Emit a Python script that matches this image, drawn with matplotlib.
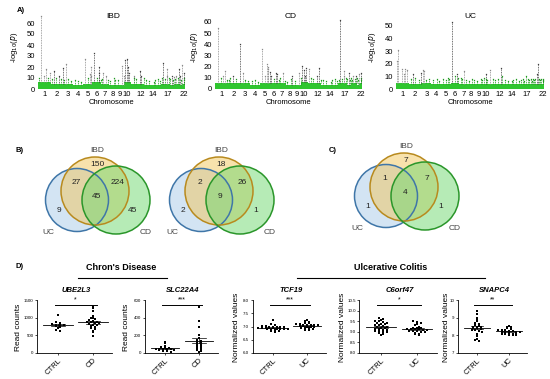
import numpy as np
import matplotlib
matplotlib.use('Agg')
import matplotlib.pyplot as plt
import matplotlib.patches as patches

plt.rcParams['font.family'] = ['Liberation Sans', 'DejaVu Sans']

W, H = 550, 379

# ---- data: Manhattan plots ----
chrom_len = [249, 243, 198, 191, 181, 171, 159, 146, 141, 136, 135, 134,
             115, 107, 102, 90, 83, 80, 59, 64, 47, 51]
chrom_ticks = [1, 2, 3, 4, 5, 6, 7, 8, 9, 10, 12, 14, 17, 22]

# green "background" band height per chromosome
ibd_band = [6, 5, 5, 4, 5, 6, 5, 4, 4, 6, 5, 5, 4, 4, 4, 5, 5, 4, 5, 5, 4, 5]
cd_band = [5, 5, 5, 4, 5, 5, 5, 4, 4, 6, 5, 5, 4, 4, 4, 5, 5, 4, 5, 5, 4, 5]
uc_band = [5, 4, 5, 4, 4, 5, 4, 4, 4, 4, 4, 4, 4, 4, 4, 4, 4, 4, 4, 4, 4, 4]

# (chromosome, position Mb, -log10 p)
ibd_peaks = [
    (1, 20, 10), (1, 67, 66), (1, 120, 12), (1, 160, 18), (1, 200, 10), (1, 235, 15),
    (2, 30, 9), (2, 60, 16), (2, 100, 10), (2, 160, 12), (2, 200, 9), (2, 234, 19),
    (3, 20, 8), (3, 49, 23), (3, 100, 9), (3, 160, 7),
    (4, 40, 8), (4, 100, 7), (4, 150, 6),
    (5, 40, 27), (5, 96, 10), (5, 131, 14), (5, 150, 12), (5, 158, 20),
    (6, 32, 33), (6, 90, 10), (6, 128, 15), (6, 138, 20), (6, 165, 8),
    (7, 27, 9), (7, 50, 15), (7, 100, 12), (7, 130, 8),
    (8, 20, 7), (8, 90, 10), (8, 126, 8),
    (9, 30, 8), (9, 117, 21), (9, 139, 12),
    (10, 35, 26), (10, 64, 27), (10, 81, 20), (10, 101, 15),
    (11, 60, 12), (11, 76, 10), (11, 114, 9),
    (12, 40, 16), (12, 68, 12), (12, 120, 10),
    (13, 40, 8), (13, 100, 7), (14, 69, 6), (14, 88, 8),
    (15, 38, 9), (15, 90, 7), (16, 28, 10), (16, 50, 24), (16, 86, 9),
    (17, 32, 12), (17, 38, 18), (17, 70, 10),
    (18, 12, 9), (18, 46, 12), (18, 67, 8),
    (19, 10, 11), (19, 33, 9), (19, 47, 12),
    (20, 31, 10), (20, 44, 18), (20, 62, 12),
    (21, 16, 8), (21, 40, 22), (22, 22, 10), (22, 30, 15), (22, 40, 8),
]
cd_peaks = [
    (1, 67, 55), (1, 120, 10), (1, 160, 12), (1, 200, 16), (1, 230, 8),
    (2, 30, 8), (2, 45, 10), (2, 100, 12), (2, 160, 9), (2, 234, 40),
    (3, 49, 14), (3, 100, 8), (3, 160, 7),
    (4, 40, 7), (4, 100, 8), (4, 150, 6),
    (5, 40, 36), (5, 96, 12), (5, 131, 22), (5, 150, 18), (5, 158, 20),
    (6, 20, 15), (6, 32, 12), (6, 90, 9), (6, 128, 14), (6, 146, 13),
    (7, 27, 8), (7, 50, 10), (7, 100, 14), (7, 130, 7),
    (8, 20, 6), (8, 90, 9), (8, 126, 12),
    (9, 30, 7), (9, 117, 14), (9, 139, 10),
    (10, 35, 21), (10, 64, 17), (10, 81, 12), (10, 101, 19),
    (11, 26, 18), (11, 76, 10), (11, 114, 9),
    (12, 40, 12), (12, 86, 19), (12, 120, 8),
    (13, 40, 8), (13, 100, 7), (14, 69, 6), (14, 88, 8),
    (15, 38, 9), (15, 90, 7), (16, 28, 8), (16, 50, 62), (16, 86, 9),
    (17, 32, 12), (17, 38, 16), (17, 70, 10),
    (18, 12, 9), (18, 46, 14), (18, 67, 8),
    (19, 10, 10), (19, 33, 8), (19, 47, 12),
    (20, 31, 9), (20, 44, 12), (20, 62, 10),
    (21, 16, 8), (21, 40, 13), (22, 22, 10), (22, 30, 14), (22, 40, 8),
]
uc_peaks = [
    (1, 20, 22), (1, 45, 31), (1, 110, 16), (1, 160, 12), (1, 175, 16), (1, 207, 15),
    (2, 40, 8), (2, 76, 12), (2, 130, 9), (2, 200, 7), (2, 231, 13),
    (3, 40, 15), (3, 53, 14), (3, 100, 7), (3, 160, 8),
    (4, 40, 7), (4, 103, 8), (4, 150, 6),
    (5, 40, 8), (5, 96, 7), (5, 131, 9), (5, 158, 8),
    (6, 32, 53), (6, 90, 10), (6, 128, 12), (6, 140, 9),
    (7, 27, 9), (7, 50, 8), (7, 100, 14), (7, 130, 7),
    (8, 20, 6), (8, 90, 8), (8, 126, 7),
    (9, 30, 6), (9, 117, 8), (9, 139, 7),
    (10, 35, 9), (10, 64, 12), (10, 81, 8), (10, 101, 7),
    (11, 20, 15), (11, 76, 8), (11, 114, 7),
    (12, 40, 8), (12, 100, 17), (12, 120, 10),
    (13, 40, 7), (13, 100, 6), (14, 69, 6), (14, 88, 7),
    (15, 38, 8), (15, 90, 6), (16, 28, 7), (16, 68, 8), (16, 86, 6),
    (17, 38, 10), (17, 70, 8),
    (18, 12, 7), (18, 46, 8), (18, 67, 6),
    (19, 10, 8), (19, 33, 7), (19, 47, 8),
    (20, 31, 12), (20, 45, 20), (20, 62, 8),
    (21, 16, 7), (21, 40, 8), (22, 22, 8), (22, 30, 7), (22, 40, 6),
]

# ---- data: Venn diagrams ----
venn_regions = ['IBD', 'IBD+UC', 'IBD+CD', 'all', 'UC', 'CD']
venn_b_left = [150, 27, 224, 45, 9, 45]
venn_b_right = [18, 2, 26, 9, 2, 1]
venn_c = [7, 1, 7, 4, 1, 1]

# ---- data: expression dot plots ----
ube2l3_ctrl = [1080, 880, 850, 820, 800, 790, 780, 760, 740, 700, 650, 620]
ube2l3_cd = [1330, 1280, 1200, 1050, 1000, 980, 950, 920, 900, 890, 880, 870,
             860, 850, 830, 800, 780, 760, 740, 700, 680, 620, 600, 480]
slc22a4_ctrl = [130, 110, 80, 70, 60, 55, 50, 50, 45, 40, 40, 35, 30, 25, 20, 15]
slc22a4_cd = [520, 360, 290, 200, 170, 150, 140, 130, 120, 110, 100, 90, 80,
              70, 60, 50, 40, 30, 20, 10]
tcf19_ctrl = [7.25, 7.08, 7.05, 7.03, 7.02, 7.0, 7.0, 6.99, 6.98, 6.97, 6.96, 6.95,
              6.95, 6.94, 6.93, 6.92, 6.92, 6.91, 6.9, 6.89, 6.88, 6.86, 6.84, 6.82, 6.8]
tcf19_uc = [7.25, 7.2, 7.18, 7.15, 7.12, 7.1, 7.08, 7.07, 7.06, 7.05, 7.05, 7.04,
            7.03, 7.02, 7.0, 6.99, 6.98, 6.96, 6.95, 6.93, 6.9, 6.88, 6.86]
c6orf47_ctrl = [9.65, 9.6, 9.55, 9.5, 9.5, 9.45, 9.42, 9.4, 9.38, 9.35, 9.32, 9.3,
                9.28, 9.25, 9.22, 9.2, 9.18, 9.15, 9.12, 9.1, 9.08, 9.05, 9.02, 9.0,
                8.98, 8.95, 8.9, 8.85]
c6orf47_uc = [9.5, 9.45, 9.42, 9.38, 9.3, 9.25, 9.2, 9.18, 9.16, 9.15, 9.14, 9.13,
              9.12, 9.1, 9.08, 9.06, 9.05, 9.02, 9.0, 8.98, 8.95, 8.9, 8.88, 8.85]
snapc4_ctrl = [9.4, 9.2, 9.0, 8.9, 8.8, 8.7, 8.65, 8.6, 8.55, 8.5, 8.5, 8.45, 8.4,
               8.4, 8.35, 8.3, 8.3, 8.25, 8.2, 8.1, 8.0, 7.95, 7.8, 7.75, 7.7]
snapc4_uc = [8.55, 8.5, 8.45, 8.4, 8.35, 8.3, 8.3, 8.28, 8.25, 8.22, 8.2, 8.2, 8.18,
             8.15, 8.12, 8.1, 8.1, 8.08, 8.05, 8.03, 8.0, 8.0]


def rect(left, top, right, bottom):
    """pixel box -> figure fraction"""
    return [left / W, 1 - bottom / H, (right - left) / W, (bottom - top) / H]


fig = plt.figure(figsize=(W / 100, H / 100), dpi=100)

# background axes in pixel coordinates for Venns and free text
bg = fig.add_axes([0, 0, 1, 1])
bg.set_xlim(0, W)
bg.set_ylim(H, 0)
bg.axis('off')


def manhattan(box, band, peaks, ymax, yticks, title, title_xy, ylab_x):
    ax = fig.add_axes(rect(*box))
    offs = np.concatenate([[0], np.cumsum(chrom_len)[:-1]])
    for i, L in enumerate(chrom_len):
        ax.fill_between([offs[i], offs[i] + L], 0, band[i], color='#2fc62f', lw=0)
    for c, p, h in peaks:
        x = offs[c - 1] + p
        col = '#404040' if c % 2 == 0 else '#8a8a8a'
        if h < 11:
            col = '#1f9a1f'
        ax.vlines(x, band[c - 1], h, colors=col, linestyles=(0, (1, 1)), lw=0.6)
        ax.plot(x, h, 's', ms=0.9, color=col, mew=0)
    ax.set_xlim(0, sum(chrom_len))
    ax.set_ylim(-1, ymax)
    centers = offs + np.array(chrom_len) / 2
    ax.set_xticks([centers[c - 1] for c in chrom_ticks])
    ax.set_xticklabels([str(c) for c in chrom_ticks], fontsize=5.5)
    ax.set_yticks(yticks)
    ax.set_yticklabels([str(t) for t in yticks], fontsize=5.5)
    ax.tick_params(axis='x', length=0, pad=0.5)
    ax.tick_params(axis='y', length=0, pad=2)
    for s in ax.spines.values():
        s.set_visible(False)
    ax.patch.set_alpha(0)
    bg.text(title_xy[0], title_xy[1], title, fontsize=6, ha='center', va='center')
    bg.text((box[0] + box[2]) / 2, 102.5, 'Chromosome', fontsize=5.5, ha='center', va='center')
    bg.text(ylab_x, 47, r'-log$_{10}$($\it{p}$)', fontsize=5.5, rotation=90,
            ha='center', va='center')


manhattan((38, 14.2, 185, 90.1), ibd_band, ibd_peaks, 68, range(0, 61, 10), 'IBD', (113, 16), 15)
manhattan((215, 13.0, 362, 90.1), cd_band, cd_peaks, 68, range(0, 61, 10), 'CD', (291, 16), 195)
manhattan((396, 15.9, 544, 90.3), uc_band, uc_peaks, 58, range(0, 51, 10), 'UC', (470, 17), 373)

bg.text(17, 10, 'A)', fontsize=5.5, fontweight='bold', ha='left', va='center')
bg.text(15, 151, 'B)', fontsize=5.5, fontweight='bold', ha='left', va='center')
bg.text(329, 150, 'C)', fontsize=5.5, fontweight='bold', ha='left', va='center')
bg.text(15, 267, 'D)', fontsize=5.5, fontweight='bold', ha='left', va='center')

# ---- Venn diagrams ----
label_off = {'IBD': (2, -27), 'IBD+UC': (-19, -8), 'IBD+CD': (23, -8),
             'all': (1, 6), 'UC': (-36, 19), 'CD': (37, 19)}


def venn(cx, cy, counts):
    circles = [((cx - 18, cy + 9), 31.5, '#a9cbe9', '#3f76a8'),
               ((cx, cy), 34, '#f2c65a', '#b88a1e'),
               ((cx + 21, cy + 9), 34, '#6fd86f', '#2a962a')]
    for (x, y), r, fc, ec in circles:
        bg.add_patch(patches.Circle((x, y), r, facecolor=fc, alpha=0.5, lw=0))
    for (x, y), r, fc, ec in circles:
        bg.add_patch(patches.Circle((x, y), r, facecolor='none', edgecolor=ec, lw=1.1))
    for name, n in zip(venn_regions, counts):
        dx, dy = label_off[name]
        bg.text(cx + dx, cy + dy, str(n), fontsize=6, ha='center', va='center', color='#222222')
    bg.text(cx + 2, cy - 41, 'IBD', fontsize=6, ha='center', va='center', color='#444444')
    bg.text(cx - 47, cy + 42, 'UC', fontsize=6, ha='center', va='center', color='#444444')
    bg.text(cx + 51, cy + 42, 'CD', fontsize=6, ha='center', va='center', color='#444444')


venn(95, 191, venn_b_left)
venn(219, 191, venn_b_right)
venn(404, 187, venn_c)

# ---- group headers ----
bg.text(121, 267, "Chron's Disease", fontsize=6.5, fontweight='bold', ha='center', va='center')
bg.plot([78, 167], [278, 278], color='black', lw=0.8)
bg.text(391, 267, 'Ulcerative Colitis', fontsize=6.5, fontweight='bold', ha='center', va='center')
bg.plot([297, 485], [278, 278], color='black', lw=0.8)


def swarm_offsets(vals, ylim):
    vals = np.asarray(vals, dtype=float)
    step = (ylim[1] - ylim[0]) / 28
    bins = np.round(vals / step)
    xo = np.zeros(len(vals))
    for b in np.unique(bins):
        idx = np.where(bins == b)[0]
        n = len(idx)
        xo[idx] = (np.arange(n) - (n - 1) / 2) * 0.11
    return xo


def dotplot(c0, c1, title, ctrl, case, case_lab, ylim, yticks, ytl, ylab, stars, ylab_x):
    d = c1 - c0
    ax = fig.add_axes(rect(c0 - 0.6 * d, 300, c1 + 0.55 * d, 353))
    for i, vals in enumerate([ctrl, case]):
        xo = swarm_offsets(vals, ylim)
        ax.scatter(i + xo, vals, s=2.2, marker='s', color='black', lw=0, zorder=3)
        m = np.mean(vals)
        sem = np.std(vals, ddof=1) / np.sqrt(len(vals))
        ax.plot([i - 0.42, i + 0.42], [m, m], color='black', lw=0.6)
        ax.plot([i, i], [m - sem, m + sem], color='black', lw=0.5)
        ax.plot([i - 0.2, i + 0.2], [m + sem] * 2, color='black', lw=0.5)
        ax.plot([i - 0.2, i + 0.2], [m - sem] * 2, color='black', lw=0.5)
    ax.set_xlim(-0.6, 1.55)
    ax.set_ylim(*ylim)
    ax.set_yticks(yticks)
    ax.set_yticklabels(ytl, fontsize=3.2)
    ax.set_xticks([0, 1])
    ax.set_xticklabels(['CTRL', case_lab], fontsize=5.5, rotation=45, ha='right',
                       rotation_mode='anchor')
    ax.tick_params(axis='y', length=1.5, width=0.5, pad=1)
    ax.tick_params(axis='x', length=1.5, width=0.5, pad=1.5)
    for s in ['top', 'right']:
        ax.spines[s].set_visible(False)
    for s in ['left', 'bottom']:
        ax.spines[s].set_linewidth(0.6)
    ax.patch.set_alpha(0)
    tr = ax.get_xaxis_transform()
    ax.plot([-0.1, 1.1], [0.9, 0.9], color='black', lw=0.7, transform=tr, clip_on=False)
    ax.text(0.5, 0.93, stars, fontsize=5, ha='center', va='bottom', transform=tr)
    bg.text((c0 - 0.6 * d + c1 + 0.55 * d) / 2 + 2, 290, title, fontsize=5.5,
            fontweight='bold', style='italic', ha='center', va='center')
    bg.text(ylab_x, 327, ylab, fontsize=6, rotation=90, ha='center', va='center')


dotplot(58, 93, 'UBE2L3', ube2l3_ctrl, ube2l3_cd, 'CD', (0, 1500), [0, 500, 1000, 1500],
        ['0', '500', '1000', '1500'], 'Read counts', '*', 19)
dotplot(165, 199, 'SLC22A4', slc22a4_ctrl, slc22a4_cd, 'CD', (0, 600), [0, 200, 400, 600],
        ['0', '200', '400', '600'], 'Read counts', '***', 127)
dotplot(273, 307, 'TCF19', tcf19_ctrl, tcf19_uc, 'UC', (6.0, 8.0), [6.0, 6.5, 7.0, 7.5, 8.0],
        ['6.0', '6.5', '7.0', '7.5', '8.0'], 'Normalized values', '***', 237)
dotplot(381, 417, 'C6orf47', c6orf47_ctrl, c6orf47_uc, 'UC', (8.0, 10.5),
        [8.0, 8.5, 9.0, 9.5, 10.0, 10.5], ['8.0', '8.5', '9.0', '9.5', '10.0', '10.5'],
        'Normalized values', '*', 343)
dotplot(477, 509, 'SNAPC4', snapc4_ctrl, snapc4_uc, 'UC', (7, 10), [7, 8, 9, 10],
        ['7', '8', '9', '10'], 'Normalized values', '**', 447)

fig.savefig('out.png', dpi=100)
